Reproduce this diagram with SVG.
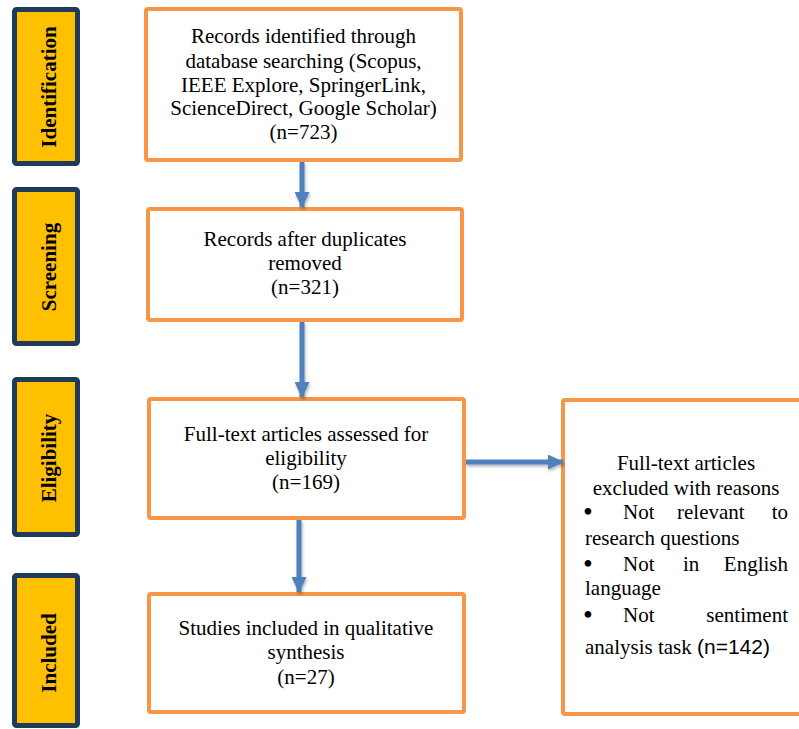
<svg xmlns="http://www.w3.org/2000/svg" width="799" height="729" viewBox="0 0 799 729">
<defs>
  <filter id="sh" filterUnits="userSpaceOnUse" x="0" y="0" width="799" height="729">
    <feDropShadow dx="1" dy="2" stdDeviation="1.5" flood-color="#000" flood-opacity="0.3"/>
  </filter>
  <marker id="ah" viewBox="0 0 16 15" refX="15" refY="7.5" markerWidth="16" markerHeight="15" markerUnits="userSpaceOnUse" orient="auto">
    <path d="M0,0 L16,7.5 L0,15 Z" fill="#4F81BD"/>
  </marker>
</defs>
<style>
  .stage rect { fill: #FFC000; stroke: #1F3A5A; stroke-width: 5; }
  .stage text { font-family: "Liberation Serif", "Times New Roman", serif; font-weight: bold; font-size: 21px; fill: #000; text-anchor: middle; }
  .box rect { fill: #fff; stroke: #F79646; stroke-width: 4; }
  .box text { font-family: "Liberation Serif", "Times New Roman", serif; font-size: 21px; fill: #000; text-anchor: middle; }
  .box text.l { text-anchor: start; }
  .box text.r { text-anchor: end; }
  .box text.b { font-size: 28px; }
  .sans { font-family: "Liberation Sans", Arial, sans-serif; }
  .conn line { stroke: #4F81BD; stroke-width: 5; marker-end: url(#ah); }
</style>
<rect width="799" height="729" fill="#fff"/>

<g id="stage-identification" class="stage">
  <rect x="14.5" y="9.5" width="63" height="154" rx="2"/>
  <text transform="translate(56,87) rotate(-90)">Identification</text>
</g>
<g id="stage-screening" class="stage">
  <rect x="14.5" y="189.5" width="63" height="154" rx="2"/>
  <text transform="translate(56,267) rotate(-90)">Screening</text>
</g>
<g id="stage-eligibility" class="stage">
  <rect x="14.5" y="379.5" width="63" height="155" rx="2"/>
  <text transform="translate(56,458) rotate(-90)">Eligibility</text>
</g>
<g id="stage-included" class="stage">
  <rect x="14.5" y="575.5" width="63" height="150" rx="2"/>
  <text transform="translate(56,653) rotate(-90)">Included</text>
</g>

<g id="box-identified" class="box">
  <rect x="146" y="9" width="315" height="151" rx="2"/>
  <text x="303.5" y="43">Records identified through</text>
  <text x="303.5" y="68">database searching (Scopus,</text>
  <text x="303.5" y="92">IEEE Explore, SpringerLink,</text>
  <text x="303.5" y="115">ScienceDirect, Google Scholar)</text>
  <text x="303.5" y="139">(n=723)</text>
</g>
<g id="box-screened" class="box">
  <rect x="148" y="209" width="314" height="111" rx="2"/>
  <text x="305" y="246">Records after duplicates</text>
  <text x="305" y="270">removed</text>
  <text x="305" y="294">(n=321)</text>
</g>
<g id="box-eligible" class="box">
  <rect x="149" y="399" width="315" height="119" rx="2"/>
  <text x="306" y="441">Full-text articles assessed for</text>
  <text x="306" y="465">eligibility</text>
  <text x="306" y="489">(n=169)</text>
</g>
<g id="box-included" class="box">
  <rect x="149" y="594" width="315" height="118" rx="2"/>
  <text x="306" y="635">Studies included in qualitative</text>
  <text x="306" y="659">synthesis</text>
  <text x="306" y="684">(n=27)</text>
</g>
<g id="box-excluded" class="box">
  <rect x="563" y="400" width="245" height="314" rx="2"/>
  <text x="686" y="470">Full-text articles</text>
  <text x="686" y="495">excluded with reasons</text>
  <text class="l b" x="583" y="521">•</text>
  <text class="l" x="623" y="519">Not</text>
  <text class="l" x="677" y="519">relevant</text>
  <text class="r" x="788" y="519">to</text>
  <text class="l" x="585" y="545">research questions</text>
  <text class="l b" x="583" y="573">•</text>
  <text class="l" x="623" y="571">Not</text>
  <text class="l" x="683" y="571">in</text>
  <text class="r" x="788" y="571">English</text>
  <text class="l" x="585" y="595">language</text>
  <text class="l b" x="583" y="624">•</text>
  <text class="l" x="623" y="622">Not</text>
  <text class="r" x="788" y="622">sentiment</text>
  <text class="l" x="585" y="654">analysis task <tspan class="sans">(n=142)</tspan></text>
</g>

<g id="connectors" class="conn" filter="url(#sh)">
  <line x1="302" y1="162" x2="302" y2="207"/>
  <line x1="302" y1="322" x2="302" y2="397"/>
  <line x1="299" y1="520" x2="299" y2="592"/>
  <line x1="466" y1="462" x2="563" y2="462"/>
</g>
</svg>
